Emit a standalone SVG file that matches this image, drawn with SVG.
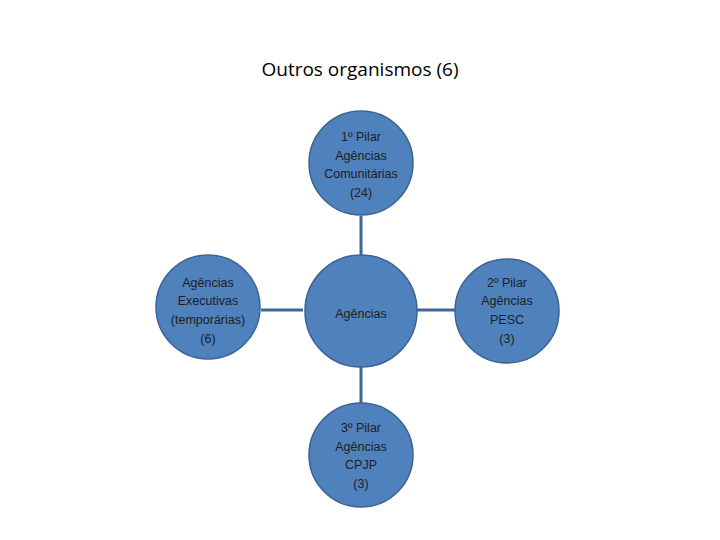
<svg xmlns="http://www.w3.org/2000/svg" width="720" height="540" viewBox="0 0 720 540">
<style>
.n{fill:#4f81bd;stroke:#3a6394;stroke-width:1.5}
.t{font-family:"Liberation Sans",Arial,sans-serif;font-size:12.5px;fill:#1e1e1e;text-anchor:middle}
.c{stroke:#3f6696;stroke-width:3;fill:none}
</style>
<rect width="720" height="540" fill="#fff"/>
<text x="360" y="76" font-family="Open Sans,Liberation Sans,sans-serif" font-size="19" text-anchor="middle" fill="#000">Outros organismos (6)</text>
<g id="connectors">
<line class="c" x1="361" y1="216" x2="361" y2="255"/>
<line class="c" x1="361" y1="367" x2="361" y2="403"/>
<line class="c" x1="261" y1="310" x2="303" y2="310"/>
<line class="c" x1="416" y1="310" x2="455" y2="310"/>
</g>
<g id="top"><circle class="n" cx="361" cy="163" r="52"/>
<text class="t" x="361" y="141">1º Pilar</text><text class="t" x="361" y="160">Agências</text><text class="t" x="361" y="178">Comunitárias</text><text class="t" x="361" y="197">(24)</text></g>
<g id="center"><circle class="n" cx="361" cy="311" r="56"/>
<text class="t" x="361" y="318" font-size="17">Agências</text></g>
<g id="bottom"><circle class="n" cx="361" cy="455" r="52"/>
<text class="t" x="361" y="432">3º Pilar</text><text class="t" x="361" y="451">Agências</text><text class="t" x="361" y="469">CPJP</text><text class="t" x="361" y="488">(3)</text></g>
<g id="left"><circle class="n" cx="208" cy="307" r="52"/>
<text class="t" x="208" y="287">Agências</text><text class="t" x="208" y="305">Executivas</text><text class="t" x="208" y="324">(temporárias)</text><text class="t" x="208" y="343">(6)</text></g>
<g id="right"><circle class="n" cx="507" cy="311" r="52"/>
<text class="t" x="507" y="287">2º Pilar</text><text class="t" x="507" y="305">Agências</text><text class="t" x="507" y="324">PESC</text><text class="t" x="507" y="343">(3)</text></g>
</svg>
